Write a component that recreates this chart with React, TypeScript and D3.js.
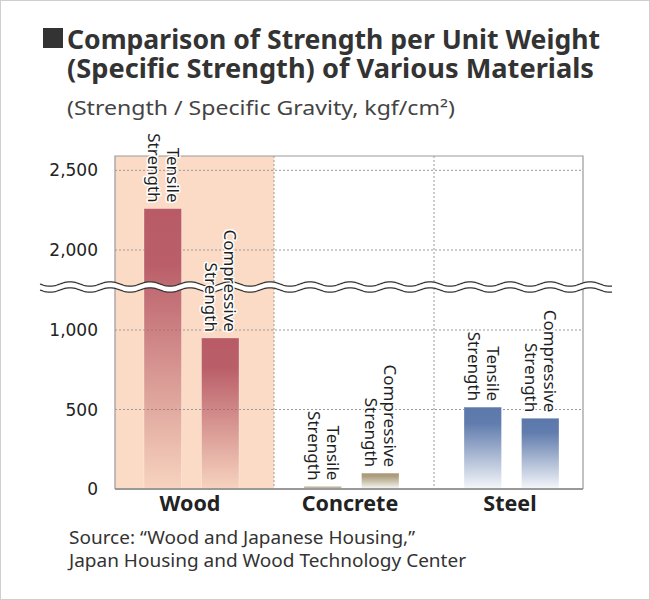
import React from 'react';
import * as d3 from 'd3';

// chart values
const categories = ['Wood', 'Concrete', 'Steel'];
const strengthTypes = ['Tensile', 'Compressive'];
const tensileValues = [2260, 16, 515];
const compressiveValues = [950, 100, 445];
const yTicks = [0, 500, 1000, 2000, 2500];
const materialColors = ['#b85b66', '#a99b79', '#5c78ab'];
const titleLines = [
  'Comparison of Strength per Unit Weight',
  '(Specific Strength) of Various Materials',
];
const subtitle = '(Strength / Specific Gravity, kgf/cm²)';
const sourceLines = [
  'Source: \u201cWood and Japanese Housing,\u201d',
  'Japan Housing and Wood Technology Center',
];

const W = 650;
const H = 600;
const plot = { left: 115, right: 583, top: 156, bottom: 489 };
const breakY = 287;

const App: React.FC = () => {
  // broken axis: 1000..2000 is squeezed into the gap around the break
  const y = d3.scaleLinear()
    .domain([0, 1000, 2000, 2590])
    .range([plot.bottom, 330, 250, plot.top]);

  const x = d3.scaleBand<string>()
    .domain(categories)
    .range([plot.left - 1, plot.left - 1 + 160 * 3])
    .paddingInner(0)
    .paddingOuter(0);

  const inner = d3.scaleBand<string>()
    .domain(strengthTypes)
    .range([30, 125])
    .paddingInner(0.348)
    .paddingOuter(0);

  const bars = categories.flatMap((cat, i) => [
    { cat, i, type: 'Tensile', value: tensileValues[i] },
    { cat, i, type: 'Compressive', value: compressiveValues[i] },
  ]);

  const fmt = d3.format(',');
  const sans = '"Noto Sans", "Open Sans", sans-serif';

  // double wavy break line
  const waveX = d3.range(40, 612.5, 1);
  const waveY = (d: number, off: number) =>
    breakY + off + 2.2 * Math.sin(((d - 40) / 40) * 2 * Math.PI);
  const wave = (off: number) =>
    d3.line<number>().x(d => d).y(d => waveY(d, off))(waveX) as string;
  const upper = waveX.map(d => [d, waveY(d, -3)]);
  const lower = waveX.map(d => [d, waveY(d, 3)]).reverse();
  const bandPath = 'M' + upper.concat(lower).map(p => p.join(',')).join('L') + 'Z';

  return (
    <>
      <style>{'body{margin:0}'}</style>
      <svg width={W} height={H} style={{ display: 'block', background: '#fff' }}>
        <defs>
          {materialColors.map((c, i) => (
            <linearGradient key={i} id={`grad${i}`} x1="0" y1="0" x2="0" y2="1">
              <stop offset="0" stopColor={c} stopOpacity={1} />
              <stop offset="0.2" stopColor={c} stopOpacity={0.97} />
              <stop offset="1" stopColor={c} stopOpacity={0.06} />
            </linearGradient>
          ))}
        </defs>

        <rect x={0.5} y={0.5} width={W - 1} height={H - 1} fill="none" stroke="#cfcfcf" />

        {/* title */}
        <rect x={43} y={28} width={20} height={20} fill="#333" />
        <text fontFamily={sans} fontWeight="bold" fontSize={26} fill="#333">
          {titleLines.map((t, i) => (
            <tspan key={t} x={67} y={48.5 + i * 29} textLength={i === 0 ? 533 : 527}
              lengthAdjust="spacingAndGlyphs">{t}</tspan>
          ))}
        </text>
        <text x={67} y={115} fontFamily={sans} fontSize={19} fill="#444"
          textLength={388} lengthAdjust="spacingAndGlyphs">{subtitle}</text>

        {/* wood background */}
        <rect x={plot.left} y={plot.top} width={(x('Wood') ?? 0) + x.bandwidth() - plot.left}
          height={plot.bottom - plot.top} fill="#fbdbc5" />

        {/* grid */}
        {yTicks.filter(t => t > 0).map(t => (
          <line key={t} x1={plot.left} x2={plot.right} y1={y(t)} y2={y(t)}
            stroke="#9a9a9a" strokeWidth={1} strokeDasharray="2,2" />
        ))}
        {categories.slice(1).map(c => (
          <line key={c} x1={x(c)} x2={x(c)} y1={plot.top} y2={plot.bottom}
            stroke="#9a9a9a" strokeWidth={1} strokeDasharray="2,2" />
        ))}

        {/* frame */}
        <path d={`M${plot.left},${plot.bottom}V${plot.top}H${plot.right}V${plot.bottom}`}
          fill="none" stroke="#999" strokeWidth={1.2} />

        {/* bars */}
        {bars.map(b => {
          const bx = (x(b.cat) ?? 0) + (inner(b.type) ?? 0);
          return (
            <rect key={b.cat + b.type} x={bx} y={y(b.value)} width={inner.bandwidth()}
              height={plot.bottom - y(b.value)} fill={`url(#grad${b.i})`}
              stroke="#fff" strokeOpacity={0.3} strokeWidth={1} />
          );
        })}

        <line x1={plot.left} x2={plot.right} y1={plot.bottom} y2={plot.bottom}
          stroke="#999" strokeWidth={1.8} />

        {/* break */}
        <path d={bandPath} fill="#fff" />
        <path d={wave(-3)} fill="none" stroke="#333" strokeWidth={1.3} />
        <path d={wave(3)} fill="none" stroke="#333" strokeWidth={1.3} />

        {/* bar labels */}
        {bars.map(b => {
          const cx = (x(b.cat) ?? 0) + (inner(b.type) ?? 0) + inner.bandwidth() / 2;
          return (
            <g key={'l' + b.cat + b.type} transform={`translate(${cx},${y(b.value) - 6}) rotate(90)`}>
              <text textAnchor="end" fontFamily={sans} fontSize={17} fill="#1f1f1f"
                stroke="#fff" strokeWidth={3} strokeLinejoin="round"
                style={{ paintOrder: 'stroke' }}>
                <tspan x={0} y={-4}>{b.type}</tspan>
                <tspan x={0} y={15}>Strength</tspan>
              </text>
            </g>
          );
        })}

        {/* y ticks */}
        {yTicks.map(t => (
          <text key={t} x={98} y={y(t)} dy="0.36em" textAnchor="end"
            fontFamily='"DejaVu Sans", Verdana, sans-serif' fontSize={17} fill="#222">{fmt(t)}</text>
        ))}

        {/* category labels */}
        {categories.map(c => (
          <text key={c} x={(x(c) ?? 0) + 76} y={511} textAnchor="middle" fontFamily={sans}
            fontWeight="bold" fontSize={21.5} fill="#222">{c}</text>
        ))}

        {/* source */}
        {sourceLines.map((t, i) => (
          <text key={t} x={69} y={544 + i * 23} fontFamily={sans} fontSize={18} fill="#333"
            textLength={i === 0 ? 346 : 397} lengthAdjust="spacingAndGlyphs">{t}</text>
        ))}
      </svg>
    </>
  );
};

export default App;
